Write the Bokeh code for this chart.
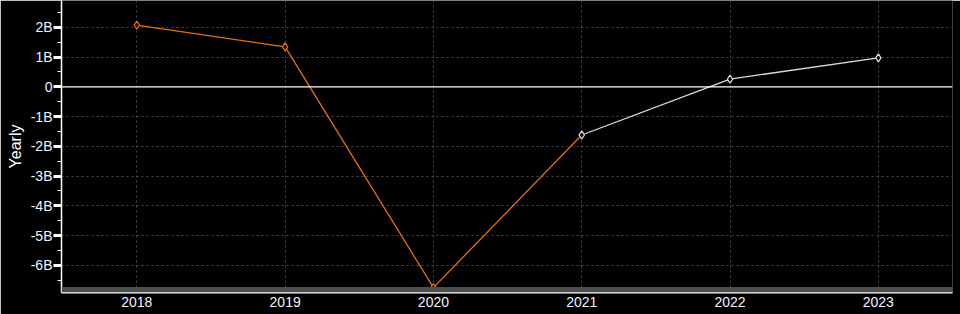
from bokeh.plotting import figure
from bokeh.models import (FixedTicker, CustomJSTickFormatter, Span, BoxAnnotation,
                          Range1d, ColumnDataSource)
from bokeh.embed import file_html
from bokeh.resources import INLINE

# Data (values in billions)
actual_years = [2018, 2019, 2020, 2021]
actual_vals = [2.07, 1.34, -6.75, -1.62]
est_years = [2021, 2022, 2023]
est_vals = [-1.62, 0.26, 0.97]
year_ticks = [2018, 2019, 2020, 2021, 2022, 2023]
y_ticks = [-6, -5, -4, -3, -2, -1, 0, 1, 2]
y_minor = [-6.5, -5.5, -4.5, -3.5, -2.5, -1.5, -0.5, 0.5, 1.5, 2.5]

FONT = "Liberation Sans"
ORANGE = "#e8700a"
WHITE = "#dcdcdc"
LABEL = "#eef3ff"

p = figure(width=960, height=314, output_backend="svg", toolbar_location=None,
           x_range=Range1d(2017.492, 2023.50), y_range=Range1d(-6.914, 2.90),
           min_border_left=61, min_border_right=8, min_border_top=0, min_border_bottom=22,
           background_fill_color="black", border_fill_color="black",
           outline_line_color=None)

# axes
p.xaxis.ticker = FixedTicker(ticks=year_ticks)
p.xaxis.axis_line_color = "white"
p.xaxis.axis_line_width = 2
p.xaxis.major_tick_in = 4
p.xaxis.major_tick_out = 0
p.xaxis.major_tick_line_color = "white"
p.xaxis.minor_tick_line_color = None
p.xaxis.major_label_text_color = LABEL
p.xaxis.major_label_text_font = FONT
p.xaxis.major_label_text_font_size = "14px"
p.xaxis.major_label_standoff = 4

p.yaxis.ticker = FixedTicker(ticks=y_ticks, minor_ticks=y_minor)
p.yaxis.formatter = CustomJSTickFormatter(code="return tick == 0 ? '0' : tick.toFixed(0) + 'B';")
p.yaxis.axis_line_color = "white"
p.yaxis.axis_line_width = 1.5
p.yaxis.major_tick_in = 0
p.yaxis.major_tick_out = 8
p.yaxis.major_tick_line_width = 3
p.yaxis.major_tick_line_color = "white"
p.yaxis.minor_tick_in = 0
p.yaxis.minor_tick_out = 4
p.yaxis.minor_tick_line_color = "white"
p.yaxis.major_label_text_color = LABEL
p.yaxis.major_label_text_font = FONT
p.yaxis.major_label_text_font_size = "14px"
p.yaxis.major_label_standoff = 1
p.yaxis.axis_label = "Yearly"
p.yaxis.axis_label_text_color = "white"
p.yaxis.axis_label_text_font = FONT
p.yaxis.axis_label_text_font_size = "16px"
p.yaxis.axis_label_text_font_style = "normal"
p.yaxis.axis_label_standoff = 4

# grids
p.xgrid.ticker = FixedTicker(ticks=year_ticks)
p.ygrid.ticker = FixedTicker(ticks=[t for t in y_ticks if t != 0])
for g in (p.xgrid, p.ygrid):
    g.grid_line_color = "#4a4a4a"
    g.grid_line_dash = "2 3"
    g.grid_line_width = 1

p.add_layout(Span(location=0, dimension="width", line_color="white", line_width=1.3))

# series
src_a = ColumnDataSource(dict(x=actual_years, y=actual_vals))
src_e = ColumnDataSource(dict(x=est_years, y=est_vals))
p.line("x", "y", source=src_a, line_color=ORANGE, line_width=1.3)
p.line("x", "y", source=src_e, line_color=WHITE, line_width=1.3)
p.scatter("x", "y", source=src_a, marker="diamond", size=8, fill_color="black",
          line_color=ORANGE, line_width=1.2)
p.scatter("x", "y", source=src_e, marker="diamond", size=8, fill_color="black",
          line_color=WHITE, line_width=1.2)

# bottom scroll bar band
p.add_layout(BoxAnnotation(top=-6.729, fill_color="#4d4d4d", fill_alpha=1,
                           line_color=None))

open("out.html", "w").write(file_html(p, INLINE))
